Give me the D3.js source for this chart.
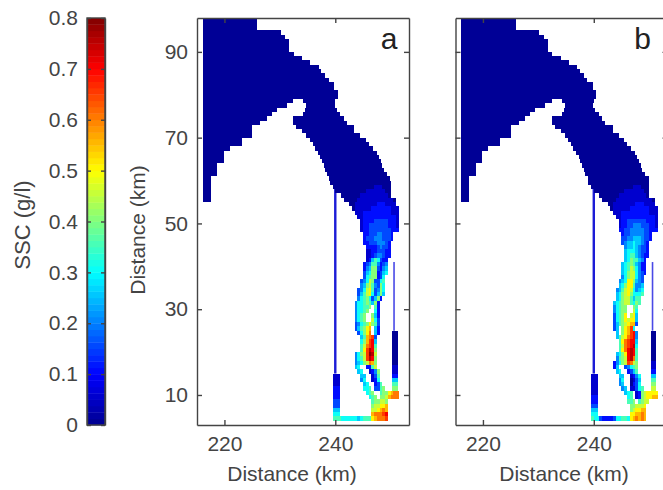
<!DOCTYPE html>
<html>
<head>
<meta charset="utf-8">
<script src="https://cdn.jsdelivr.net/npm/d3@7"></script>
<style>
html, body { margin: 0; padding: 0; background: #fff; overflow: hidden; }
svg { display: block; }
text { font-family: "Liberation Sans", Arial, sans-serif; fill: #444; }
.axis path, .axis line { stroke: #444; stroke-width: 1.4; }
.axis text { font-size: 21px; fill: #444; }
</style>
</head>
<body>
<div id="chart"></div>
<script>
// bay outline, one row per km of y: [row, x from, x to] with SSC ~ 0
var bayRows = [
  [97,216.1,225.9],[96,216.1,225.9],[95,216.1,225.9],[94,216.1,230.2],[93,216.1,231],[92,216.1,231.7],
  [91,216.1,231.7],[90,216.1,231.7],[89,216.1,232.5],[88,216.1,234],[87,216.1,235.5],[86,216.1,237],
  [85,216.1,237.5],[84,216.1,238.2],[83,216.1,238.8],[82,216.1,239.8],[81,216.1,239.8],[80,216.1,240.4],
  [79,216.1,240.4],
  [78,216.1,232.4],[78,234.2,240],[77,216.1,231.2],[77,234.8,239.9],[76,216.1,229.4],[76,234.6,240.3],
  [75,216.1,228.5],[75,234.2,240.9],[74,216.1,227.6],[74,232.4,241.5],[73,216.1,226.5],[73,232.4,242.1],
  [72,216.1,225],[72,233,243.4],[71,216.1,225],[71,234,243.4],[70,216.1,225],[70,234.8,244.5],
  [69,216.1,223.1],[69,235.4,245.5],[68,216.1,223.1],[68,235.9,246],[67,216.1,221],[67,236.3,246.8],
  [66,216.1,219.9],[66,236.8,247.5],[65,216.1,219.9],[65,237.3,247.8],[64,216.1,219.9],[64,237.6,248.2],
  [63,216.1,218.7],[63,237.9,248.5],[62,216.1,218.7],[62,238.2,248.7],[61,216.1,218.7],[61,238.5,249.3],
  [60,216.1,217.5],[60,238.9,249.9],[59,216.1,217.5],[58,216.1,217.5],[57,216.1,217.5],[56,216.1,217.5],
  [55,216.1,217.5]
];

// estuary rows: [row, first column, cell codes]. column 0 = 239 km, 0.5 km per cell
// code = SSC in steps of 0.05 g/l (base 17), "." = no data
var estuaryTop = [
  [59,0,"0000000000000000000000"],[58,1,"000000000000000111000"],[57,2,"00000000000111111100"],
  [56,4,"000000011111111110"],[55,5,"000001111111111111"+"0"],[54,7,"0011111111222111"+"1"],
  [53,8,"01111112222222111"],[52,9,"1112222222222"+"111"],[51,10,"1122222222222"+"21"]
];
var estuaryA = [
  [50,11,"12222333332221"],[49,11,"12233333332221"],[48,11,"12233333333222"],[47,12,"22333443332"],
  [46,12,"23334443332"],[45,12,"2233344432"],[44,13,"222234332"],[43,13,"112233322"],[42,13,"112344322"],
  [41,13,"12576322"],[40,12,"234774234"],[39,12,"245883245"],[38,12,"356882356"],[37,12,"36788236"],
  [36,11,"346983367"],[35,11,"458974386"],[34,10,"3469a73486"],[33,10,"3579a63585"],[32,10,"467863582"],
  [31,9,"466787582"],[30,9,"466778.72"],[29,9,"46678..62"],[28,9,"4678..852"],[27,9,"4678..963"],
  [26,9,"34678a873"],[25,9,"3578ab.52"],[24,10,"368ac.52"],[23,11,"57bcd3"],[22,11,"68bde5"],
  [21,11,"79cde7"],[20,11,"7adfe8"],[19,9,"4689dgf9"],[18,9,"4679dfe8"],[17,9,"45689cb8"],
  [16,9,"56..2279"],[15,10,"56..1248"],[14,11,"55..137"],[13,11,"46..126"],[12,12,"56..237"],
  [11,12,"667.3378"],[10,13,"678..788abcc"],[9,14,"678.889bccc"],[8,15,"788998"],[7,15,"899aab"],
  [6,15,"99abcb"],[5,15,"bcccde"],[4,1,"77766666656777abcccd"]
];
var estuaryB = [
  [50,11,"12233333332221"],[49,11,"12233444333221"],[48,11,"22334444433222"],[47,12,"23344444332"],
  [46,12,"33445554332"],[45,12,"3455655432"],[44,13,"455654332"],[43,13,"566654332"],[42,13,"567754322"],
  [41,13,"56877542"],[40,12,"567875422"],[39,12,"567986422"],[38,12,"568996432"],[37,12,"46899643"],
  [36,11,"456aa8543"],[35,11,"568aa7445"],[34,10,"4579a96456"],[33,10,"5689a86667"],[32,10,"568997577"],
  [31,9,"5678997687"],[30,9,"46788..87"],[29,9,"46788..96"],[28,9,"3678a.9a5"],[27,9,"3678a9aa5"],
  [26,9,"35789abb3"],[25,9,"35.8abd6"],[24,10,"5.8abde4"],[23,10,"579acde4"],[22,11,"7acdee5"],
  [21,11,"79cdef6"],[20,11,"7acefe7"],[19,10,"568aefe7"],[18,10,"4789efc7"],[17,9,"24689dc98"],
  [16,9,"25..34678"],[15,10,"56..2357"],[14,11,"55..1246"],[13,11,"46..0135"],[12,11,"45..0236"],
  [11,12,"45.11367"],[10,13,"567.1289aaaa"],[9,14,"67.1289aabb"],[8,14,"778.7899"],[7,15,"88999a"],
  [6,15,"89aabb"],[5,15,"aabbcb"],[4,1,"76632222366776abcbcb"]
];

// the two side creeks, top row first
var leftCreekKm = [239.5, 240.8], leftCreekTop = 14;
var leftCreekA = "1112223356", leftCreekB = "1111122356";
var rightCreekKm = [250.3, 251.3], rightCreekTop = 24;
var rightCreekA = "00000000112578", rightCreekB = "00000001125789";
var thinLines = [
  {x: 240, y0: 58.5, y1: 15, color: "#1a1ad6", w: 2.4},
  {x: 250.6, y0: 41, y1: 25, color: "#4a4ae6", w: 1.6}
];

var xTicks = [220, 240];
var yTicks = [10, 30, 50, 70, 90];
var barTicks = [0, 0.1, 0.2, 0.3, 0.4, 0.5, 0.6, 0.7, 0.8];
var barLevels = d3.range(0, 64);

var W = 663, H = 490;
var svg = d3.select("#chart").append("svg").attr("width", W).attr("height", H);

var defs = svg.append("defs");
defs.append("filter").attr("id", "soft").attr("x", "-5%").attr("y", "-5%").attr("width", "110%").attr("height", "110%")
  .append("feGaussianBlur").attr("stdDeviation", 0.7);

// jet, 64 levels
var jet = d3.scaleLinear()
  .domain([0, 0.1, 0.3, 0.5, 0.7, 0.8])
  .range(["#00008f", "#0000ff", "#00ffff", "#ffff00", "#ff0000", "#800000"]);
function level(v) { return Math.min(63, Math.floor(v / 0.8 * 64)); }
function color(v) { return jet((level(v) + 0.5) / 64 * 0.8); }
function code(c) { return parseInt(c, 17) * 0.05; }

var y = d3.scaleLinear().domain([3, 97.9]).range([425, 18]);

function drawPanel(left, estuary, leftCreek, rightCreek, letter, labelX, showY) {
  var x = d3.scaleLinear().domain([215.05, 253.3]).range([left, left + 212]);
  var g = svg.append("g");
  var cells = [];
  bayRows.forEach(function(r) { cells.push({x0: r[1], x1: r[2], k: r[0], v: 0}); });
  estuaryTop.concat(estuary).forEach(function(r) {
    r[2].split("").forEach(function(c, i) {
      if (c === ".") return;
      var km = 239 + (r[1] + i) * 0.5;
      cells.push({x0: km, x1: km + 0.5, k: r[0], v: code(c)});
    });
  });
  leftCreek.split("").forEach(function(c, i) {
    cells.push({x0: leftCreekKm[0], x1: leftCreekKm[1], k: leftCreekTop - i, v: code(c)});
  });
  rightCreek.split("").forEach(function(c, i) {
    cells.push({x0: rightCreekKm[0], x1: rightCreekKm[1], k: rightCreekTop - i, v: code(c)});
  });

  var field = g.append("g").attr("filter", "url(#soft)");
  thinLines.forEach(function(l) {
    field.append("line").attr("x1", x(l.x)).attr("x2", x(l.x)).attr("y1", y(l.y0)).attr("y2", y(l.y1))
      .attr("stroke", l.color).attr("stroke-width", l.w);
  });
  // snap cell edges to whole pixels so no seams show between rows
  function top(d) { return Math.max(18, Math.round(y(d.k + 1))); }
  field.selectAll("rect").data(cells).enter().append("rect")
    .attr("x", function(d) { return Math.round(x(d.x0)); })
    .attr("y", top)
    .attr("width", function(d) { return Math.round(x(d.x1)) - Math.round(x(d.x0)); })
    .attr("height", function(d) { return Math.round(y(d.k)) - top(d); })
    .attr("fill", function(d) { return color(d.v); })
    .attr("shape-rendering", "crispEdges");

  var bottom = d3.axisBottom(x).tickValues(xTicks).tickSizeInner(-5).tickSizeOuter(0).tickPadding(11);
  var upper = d3.axisTop(x).tickValues(xTicks).tickSizeInner(-5).tickSizeOuter(0).tickFormat("");
  var lft = d3.axisLeft(y).tickValues(yTicks).tickSizeInner(-5).tickSizeOuter(0).tickPadding(9);
  if (!showY) lft.tickFormat("");
  var rgt = d3.axisRight(y).tickValues(yTicks).tickSizeInner(-5).tickSizeOuter(0).tickFormat("");
  g.append("g").attr("class", "axis").attr("transform", "translate(0,425)").call(bottom);
  g.append("g").attr("class", "axis").attr("transform", "translate(0,18)").call(upper);
  g.append("g").attr("class", "axis").attr("transform", "translate(" + left + ",0)").call(lft);
  g.append("g").attr("class", "axis").attr("transform", "translate(" + (left + 212) + ",0)").call(rgt);

  g.append("text").attr("x", left + (letter === "a" ? 192 : 187)).attr("y", 49).attr("text-anchor", "middle")
    .style("font-size", "30px").style("fill", "#222").text(letter);
  g.append("text").attr("x", labelX).attr("y", 481).attr("text-anchor", "middle")
    .style("font-size", "21px").text("Distance (km)");
}

drawPanel(197, estuaryA, leftCreekA, rightCreekA, "a", 292, true);
drawPanel(455.5, estuaryB, leftCreekB, rightCreekB, "b", 564, false);

svg.append("text").attr("transform", "translate(145,230) rotate(-90)").attr("text-anchor", "middle")
  .style("font-size", "21px").text("Distance (km)");

// colour bar
var barScale = d3.scaleLinear().domain([0, 0.8]).range([425, 18]);
var bar = svg.append("g");
bar.selectAll("rect").data(barLevels).enter().append("rect")
  .attr("x", 87).attr("width", 18)
  .attr("y", function(d) { return barScale((d + 1) / 64 * 0.8); })
  .attr("height", function(d) { return barScale(d / 64 * 0.8) - barScale((d + 1) / 64 * 0.8) + 0.4; })
  .attr("fill", function(d) { return jet((d + 0.5) / 64 * 0.8); });
bar.append("g").attr("class", "axis").attr("transform", "translate(87,0)")
  .call(d3.axisLeft(barScale).tickValues(barTicks).tickSizeInner(-4).tickSizeOuter(0).tickPadding(9)
    .tickFormat(function(d) { return d === 0 ? "0" : d3.format(".1f")(d); }));
bar.append("g").attr("class", "axis").attr("transform", "translate(105,0)")
  .call(d3.axisRight(barScale).tickValues(barTicks).tickSizeInner(-4).tickSizeOuter(0).tickFormat(""));
bar.append("rect").attr("x", 87).attr("y", 18).attr("width", 18).attr("height", 407)
  .attr("fill", "none").attr("stroke", "#444").attr("stroke-width", 1.4);

svg.append("text").attr("transform", "translate(30,225) rotate(-90)").attr("text-anchor", "middle")
  .style("font-size", "22px").text("SSC (g/l)");
</script>
</body>
</html>
